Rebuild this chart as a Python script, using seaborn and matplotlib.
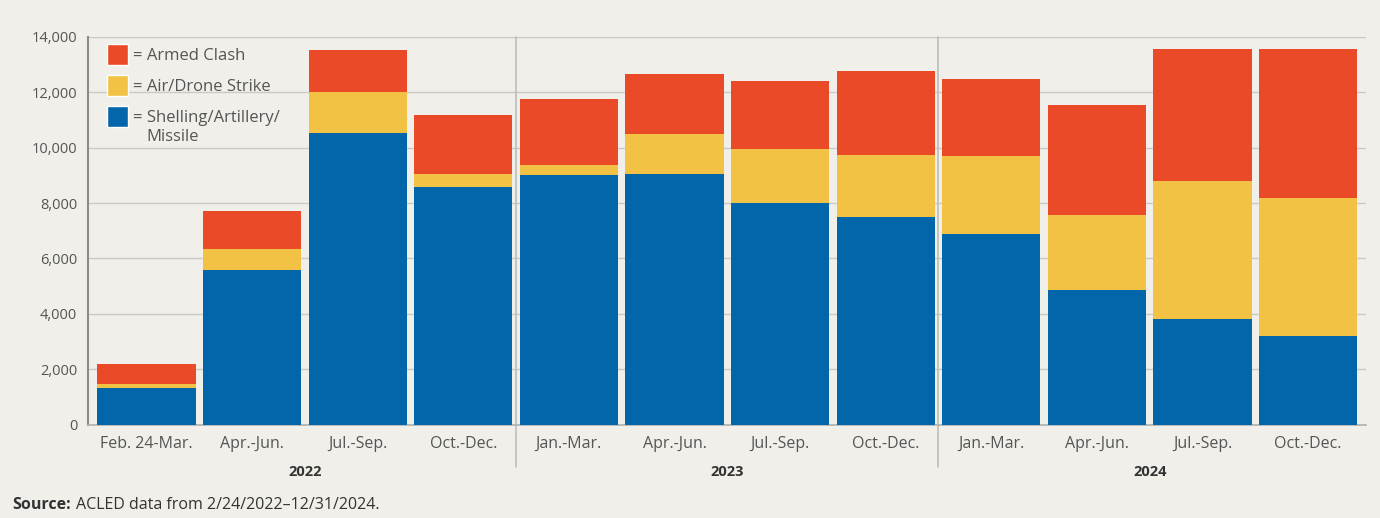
import numpy as np
import pandas as pd
import matplotlib
matplotlib.use("Agg")
import matplotlib.pyplot as plt
from matplotlib.patches import Patch
import seaborn as sns

periods = ["Feb. 24-Mar.", "Apr.-Jun.", "Jul.-Sep.", "Oct.-Dec.",
           "Jan.-Mar.", "Apr.-Jun.", "Jul.-Sep.", "Oct.-Dec.",
           "Jan.-Mar.", "Apr.-Jun.", "Jul.-Sep.", "Oct.-Dec."]
years = ["2022", "2023", "2024"]
shelling = [1340, 5590, 10540, 8590, 9020, 9060, 8020, 7490, 6890, 4850, 3810, 3190]
air_drone = [140, 760, 1480, 470, 360, 1430, 1930, 2240, 2810, 2720, 4980, 5010]
armed_clash = [720, 1370, 1510, 2120, 2370, 2160, 2460, 3040, 2770, 3960, 4770, 5360]
yticks = [0, 2000, 4000, 6000, 8000, 10000, 12000, 14000]

C_RED = "#ea4a27"
C_YEL = "#f1c244"
C_BLUE = "#0466aa"
BG = "#f0efea"

sns.set_theme(style="white")
plt.rcParams["font.family"] = ["Open Sans", "DejaVu Sans"]

df = pd.DataFrame({
    "idx": [str(i) for i in range(len(periods))],
    "shelling": shelling,
    "air": air_drone,
    "armed": armed_clash,
})
df["lvl2"] = df["shelling"] + df["air"]
df["lvl3"] = df["lvl2"] + df["armed"]

fig = plt.figure(figsize=(13.8, 5.18), dpi=100, facecolor=BG)
ax = fig.add_axes([0.064, 0.18, 0.926, 0.749])
ax.set_facecolor(BG)

for col, c in [("lvl3", C_RED), ("lvl2", C_YEL), ("shelling", C_BLUE)]:
    sns.barplot(data=df, x="idx", y=col, color=c, width=0.93, ax=ax,
                saturation=1, linewidth=0, errorbar=None, zorder=3)

ax.set_ylim(0, 14000)
ax.set_xlim(-0.55, 11.55)
ax.set_yticks(yticks)
ax.set_yticklabels([f"{v:,}" for v in yticks], fontsize=10.5, color="#555555")
ax.set_xticks(range(len(periods)))
ax.set_xticklabels(periods, fontsize=11.5, color="#555555")
ax.tick_params(axis="both", length=0, pad=8)
ax.set_xlabel("")
ax.set_ylabel("")
ax.yaxis.grid(True, color="#c9c9c6", linewidth=1, zorder=0)
ax.set_axisbelow(True)
for s in ["top", "right"]:
    ax.spines[s].set_visible(False)
ax.spines["left"].set_color("#8a8a88")
ax.spines["left"].set_linewidth(1.5)
ax.spines["bottom"].set_color("#b0b0ae")
ax.spines["bottom"].set_linewidth(1.2)

# year separators
for xv in [3.5, 7.5]:
    ax.plot([xv, xv], [-0.108, 1.0], transform=ax.get_xaxis_transform(),
            color="#bdbdbb", linewidth=1.2, clip_on=False, zorder=1)

# year labels
for i, y in enumerate(years):
    ax.text(i * 4 + 1.5, -0.103, y, transform=ax.get_xaxis_transform(),
            ha="center", va="top", fontsize=10.5, fontweight="bold", color="#333333")

handles = [Patch(facecolor=C_RED, label="= Armed Clash"),
           Patch(facecolor=C_YEL, label="= Air/Drone Strike"),
           Patch(facecolor=C_BLUE, label="= Shelling/Artillery/")]
leg = ax.legend(handles=handles, loc="upper left", bbox_to_anchor=(0.003, 1.02),
                frameon=False, fontsize=12, handlelength=1.26, handleheight=1.56,
                handletextpad=0.3, labelspacing=0.6, labelcolor="#555555")
leg.set_zorder(5)

fig.canvas.draw()
renderer = fig.canvas.get_renderer()
inv = fig.transFigure.inverted()
t3 = leg.get_texts()[2]
bb = t3.get_window_extent(renderer)
x0, y0 = inv.transform((bb.x0, bb.y0))
fig.text(x0 + 0.0095, y0 - 0.006, "Missile", fontsize=12, color="#555555",
         ha="left", va="top", zorder=6)

src1 = fig.text(0.009, 0.018, "Source:", fontsize=11.5, fontweight="bold", color="#333333")
fig.canvas.draw()
b1 = src1.get_window_extent(renderer)
fig.text(inv.transform((b1.x1 + 5, 0))[0], 0.018, "ACLED data from 2/24/2022\u201312/31/2024.",
         fontsize=11.5, color="#333333")

fig.savefig("out.png", dpi=100, facecolor=BG)
